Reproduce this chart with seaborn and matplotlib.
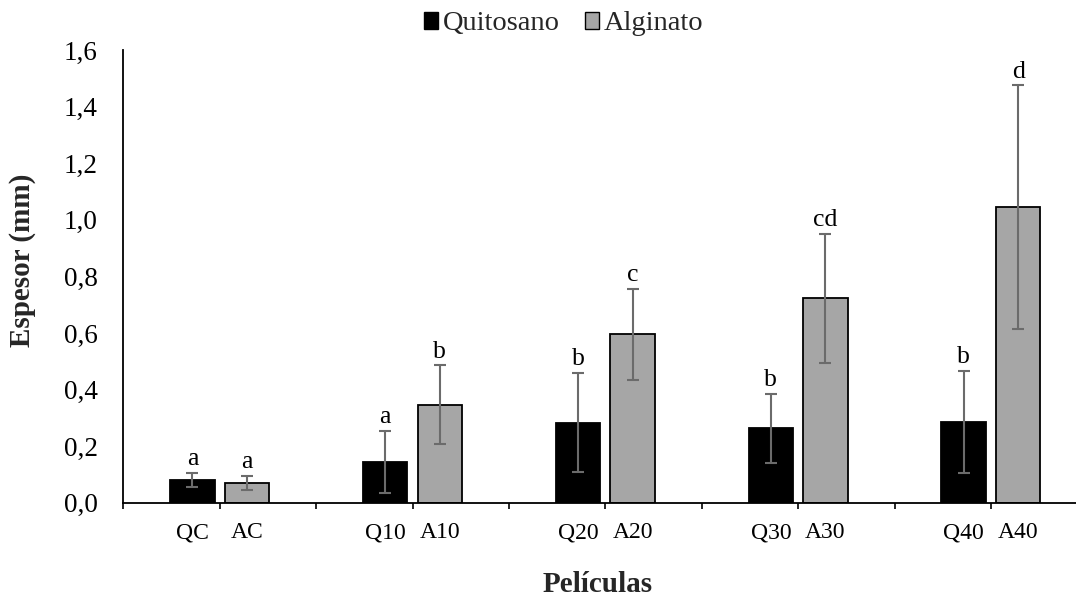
import matplotlib
matplotlib.use("Agg")
import matplotlib.pyplot as plt
import seaborn as sns
import pandas as pd
import numpy as np
from matplotlib.ticker import FuncFormatter, FixedLocator
from matplotlib.patches import Patch

# ---- data ----
groups = ["C", "10", "20", "30", "40"]
series = ["Quitosano", "Alginato"]
quitosano_mean = [0.080, 0.144, 0.283, 0.263, 0.285]
quitosano_sd = [0.026, 0.111, 0.175, 0.121, 0.180]
alginato_mean = [0.069, 0.346, 0.596, 0.722, 1.045]
alginato_sd = [0.025, 0.140, 0.161, 0.228, 0.430]
quitosano_labels = ["QC", "Q10", "Q20", "Q30", "Q40"]
alginato_labels = ["AC", "A10", "A20", "A30", "A40"]
quitosano_letters = ["a", "a", "b", "b", "b"]
alginato_letters = ["a", "b", "c", "cd", "d"]
y_ticks = [0.0, 0.2, 0.4, 0.6, 0.8, 1.0, 1.2, 1.4, 1.6]

df = pd.DataFrame({
    "grupo": groups * 2,
    "serie": [series[0]] * len(groups) + [series[1]] * len(groups),
    "espesor": quitosano_mean + alginato_mean,
})

sns.set_theme(style="white")
plt.rcParams["font.family"] = ["Liberation Serif", "DejaVu Serif"]

W, H = 1076, 596
fig = plt.figure(figsize=(W / 100, H / 100), dpi=100)
left_px, right_px, top_px, bottom_px = 123.3, 1076.0, 50.0, 502.7
ax = fig.add_axes([left_px / W, 1 - bottom_px / H,
                   (right_px - left_px) / W, (bottom_px - top_px) / H])

palette = {"Quitosano": "#000000", "Alginato": "#a6a6a6"}
sns.barplot(data=df, x="grupo", y="espesor", hue="serie", order=groups,
            hue_order=series, palette=palette, width=0.566, gap=0.184,
            edgecolor="#000000", linewidth=1.3, errorbar=None, legend=False,
            saturation=1, ax=ax)

group_px = 192.8
xmax = -0.5 + (right_px - left_px) / group_px
ax.set_xlim(-0.5, xmax)
ax.set_ylim(0, 1.6)

means = [quitosano_mean, alginato_mean]
sds = [quitosano_sd, alginato_sd]
labels = [quitosano_labels, alginato_labels]
letters = [quitosano_letters, alginato_letters]

tick_pos, tick_lab = [], []
for ci, cont in enumerate(ax.containers[:2]):
    for bi, bar in enumerate(cont):
        cx = bar.get_x() + bar.get_width() / 2
        m, s = means[ci][bi], sds[ci][bi]
        ax.errorbar(cx, m, yerr=s, fmt="none", ecolor="#6b6b6b",
                    elinewidth=1.5, capsize=4, capthick=1.5, zorder=5)
        ax.annotate(letters[ci][bi], (cx, m + s), xytext=(0, 5.5),
                    textcoords="offset points", ha="center", va="baseline",
                    fontsize=18.5, color="#000000")
        tick_pos.append(cx)
        tick_lab.append(labels[ci][bi])

order = np.argsort(tick_pos)
ax.set_xticks([tick_pos[i] for i in order])
ax.set_xticklabels([tick_lab[i] for i in order], fontsize=17)
ax.xaxis.set_minor_locator(FixedLocator(list(np.arange(-0.5, xmax, 0.5))))
ax.tick_params(axis="x", which="major", length=0, pad=14, colors="#000000")
ax.tick_params(axis="x", which="minor", length=4.5, width=1.2, direction="out",
               color="#000000", bottom=True)

ax.set_yticks(y_ticks)
ax.yaxis.set_major_formatter(FuncFormatter(lambda v, p: f"{v:.1f}".replace(".", ",")))
ax.tick_params(axis="y", length=0, pad=18.5, labelsize=19.5, colors="#000000")

for side in ["top", "right"]:
    ax.spines[side].set_visible(False)
for side in ["left", "bottom"]:
    ax.spines[side].set_color("#000000")
    ax.spines[side].set_linewidth(1.3)
ax.grid(False)

ax.set_ylabel("Espesor (mm)", fontsize=21, fontweight="bold")
ax.yaxis.set_label_coords((36 - left_px) / (right_px - left_px),
                          (bottom_px - 260) / (bottom_px - top_px))
ax.set_xlabel("Películas", fontsize=21, fontweight="bold")
ax.xaxis.set_label_coords((597.5 - left_px) / (right_px - left_px),
                          -(591.7 - bottom_px) / (bottom_px - top_px))
ax.xaxis.label.set_va("baseline")

handles = [Patch(facecolor=palette[s], edgecolor="#000000", linewidth=1.0, label=s)
           for s in series]
fig.legend(handles=handles, loc="center", bbox_to_anchor=(563.5 / W, 1 - 24 / H),
           ncol=2, frameon=False, fontsize=20.5, handlelength=0.5, handleheight=0.5,
           handletextpad=0.15, columnspacing=0.9, borderpad=0, borderaxespad=0)

fig.savefig("out.png", dpi=100)
